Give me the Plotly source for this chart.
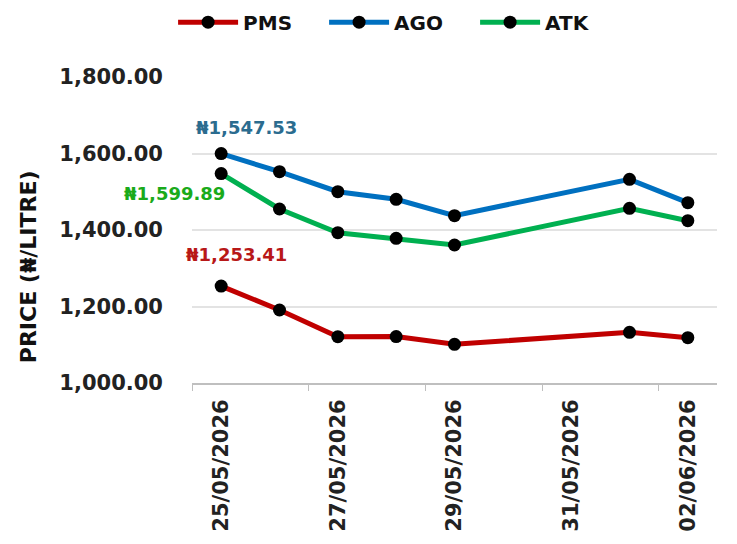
import plotly.graph_objects as go

dates = ["2026-05-25", "2026-05-26", "2026-05-27", "2026-05-28", "2026-05-29", "2026-06-01", "2026-06-02"]
pms = [1253.41, 1190.8, 1121.0, 1121.5, 1101.2, 1132.5, 1118.4]
ago = [1599.89, 1552.4, 1500.1, 1480.3, 1437.4, 1532.5, 1471.4]
atk = [1547.53, 1454.9, 1392.9, 1378.3, 1360.8, 1456.7, 1424.3]
series_names = ["PMS", "AGO", "ATK"]
series_colors = ["#C00000", "#0070C0", "#00B050"]
y_ticks = [1000, 1200, 1400, 1600, 1800]
x_ticks = ["2026-05-25", "2026-05-27", "2026-05-29", "2026-05-31", "2026-06-02"]

FONT = "DejaVu Sans"

fig = go.Figure()
for name, vals, col in zip(series_names, [pms, ago, atk], series_colors):
    fig.add_trace(go.Scatter(
        x=dates, y=vals, name=name, mode="lines+markers",
        line=dict(color=col, width=5),
        marker=dict(color="black", size=13),
    ))

# labels as shown in the reference
fig.add_annotation(x=dates[0], y=ago[0], text="₦1,547.53", showarrow=False,
                   xshift=25, yshift=26,
                   font=dict(family=FONT, size=18, color="#2B6C8F", weight="bold"))
fig.add_annotation(x=dates[0], y=atk[0], text="₦1,599.89", showarrow=False,
                   xshift=-47, yshift=-20,
                   font=dict(family=FONT, size=18, color="#1AAA1A", weight="bold"))
fig.add_annotation(x=dates[0], y=pms[0], text="₦1,253.41", showarrow=False,
                   xshift=15, yshift=32,
                   font=dict(family=FONT, size=18, color="#B81818", weight="bold"))

# y-axis title
fig.add_annotation(xref="paper", yref="paper", x=-0.312, y=0.379, textangle=-90,
                   xanchor="center", yanchor="middle",
                   text="PRICE (₦/LITRE)", showarrow=False,
                   font=dict(family=FONT, size=22, color="#111111", weight="bold"))

fig.update_layout(
    width=737, height=544,
    margin=dict(l=184, r=28, t=69, b=169, autoexpand=False),
    plot_bgcolor="white", paper_bgcolor="white",
    font=dict(family=FONT, size=20, color="#222222", weight="bold"),
    showlegend=True,
    legend=dict(orientation="h", xref="container", yref="container",
                x=0.224, xanchor="left", y=0.974, yanchor="middle",
                font=dict(family=FONT, size=20, color="#111111", weight="bold"),
                itemwidth=60, entrywidth=76, entrywidthmode="pixels",
                bgcolor="rgba(0,0,0,0)"),
)
fig.update_xaxes(
    type="date", range=["2026-05-24 12:00", "2026-06-02 12:00"], automargin=False,
    tickvals=x_ticks, tickformat="%d/%m/%Y", tickangle=-90,
    ticks="", showgrid=False, showline=True, linecolor="#BFBFBF", linewidth=2,
    ticklabelstandoff=6,
    tickfont=dict(family=FONT, size=21, color="#222222", weight="bold"),
    minor=dict(ticks="outside", tick0="2026-05-24 12:00", dtick=2 * 86400000,
               ticklen=6, tickcolor="#BFBFBF", tickwidth=1, showgrid=False),
    zeroline=False,
)
fig.update_yaxes(
    range=[1000, 1800], tickvals=y_ticks, tickformat=",.2f", automargin=False,
    showgrid=True, gridcolor="#E3E3E3", gridwidth=2, zeroline=False,
    showline=False, ticks="", ticklabelstandoff=28,
    tickfont=dict(family=FONT, size=21, color="#222222", weight="bold"),
)
fig.write_html("out.html")
